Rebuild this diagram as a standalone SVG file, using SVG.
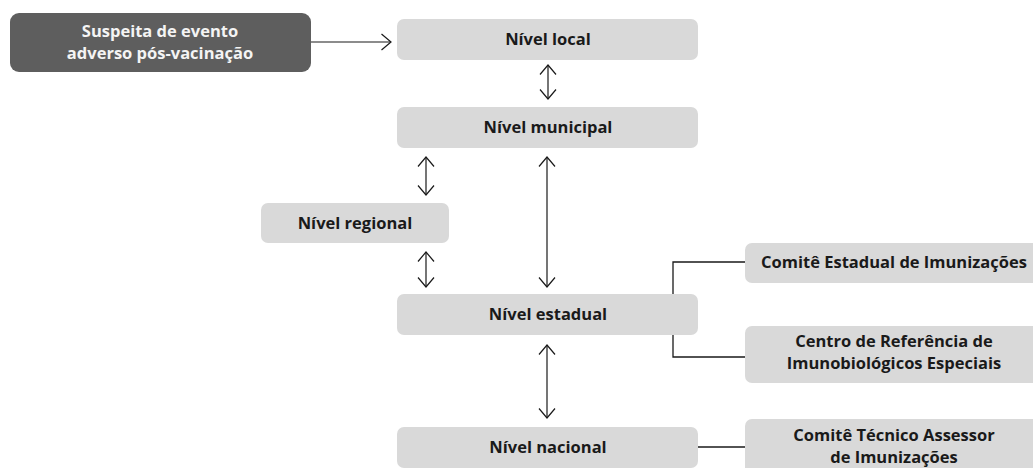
<svg xmlns="http://www.w3.org/2000/svg" width="1033" height="468" viewBox="0 0 1033 468">
<defs>
<marker id="ah" viewBox="0 0 12 18" refX="11" refY="9" markerWidth="12" markerHeight="18" markerUnits="userSpaceOnUse" orient="auto-start-reverse">
<path d="M1.5,1 L11,9 L1.5,17" fill="none" stroke="#1a1a1a" stroke-width="1.2"/>
</marker>
<style>
.box{fill:#d9d9d9}
.dark{fill:#5e5e5e}
.t{font-family:"Open Sans","Liberation Sans",sans-serif;font-weight:bold;font-size:16.5px;fill:#1a1a1a;text-anchor:middle}
.w{fill:#f4f4f4}
.ln{stroke:#1a1a1a;stroke-width:1.3;fill:none}
.arr{stroke:#1a1a1a;stroke-width:1.2;fill:none;marker-start:url(#ah);marker-end:url(#ah)}
.one{stroke:#1a1a1a;stroke-width:1.2;fill:none;marker-end:url(#ah)}
</style>
</defs>
<rect width="1033" height="468" fill="#ffffff"/>
<g id="connectors">
<line class="one" x1="311" y1="42" x2="391" y2="42"/>
<line class="arr" x1="548" y1="65" x2="548" y2="99"/>
<line class="arr" x1="426" y1="157" x2="426" y2="195"/>
<line class="arr" x1="426" y1="252" x2="426" y2="287"/>
<line class="arr" x1="547" y1="157" x2="547" y2="287"/>
<line class="arr" x1="547" y1="345" x2="547" y2="418"/>
<path class="ln" d="M745,262 H673 V357 H745"/>
<line class="ln" x1="698" y1="447" x2="745" y2="447"/>
</g>
<g id="n-suspeita">
<rect class="dark" x="10" y="13" width="301" height="59" rx="9"/>
<text class="t w" x="160" y="37">Suspeita de evento</text>
<text class="t w" x="160" y="59">adverso pós-vacinação</text>
</g>
<g id="n-local">
<rect class="box" x="397" y="19" width="301" height="41" rx="7"/>
<text class="t" x="548" y="45">Nível local</text>
</g>
<g id="n-municipal">
<rect class="box" x="397" y="107" width="301" height="41" rx="7"/>
<text class="t" x="548" y="133">Nível municipal</text>
</g>
<g id="n-regional">
<rect class="box" x="261" y="203" width="188" height="40" rx="7"/>
<text class="t" x="355" y="229">Nível regional</text>
</g>
<g id="n-estadual">
<rect class="box" x="397" y="294" width="301" height="41" rx="7"/>
<text class="t" x="548" y="320">Nível estadual</text>
</g>
<g id="n-nacional">
<rect class="box" x="397" y="427" width="301" height="41" rx="7"/>
<text class="t" x="548" y="453">Nível nacional</text>
</g>
<g id="n-comite-estadual">
<rect class="box" x="745" y="243" width="300" height="40" rx="7"/>
<text class="t" x="894" y="268">Comitê Estadual de Imunizações</text>
</g>
<g id="n-centro">
<rect class="box" x="745" y="326" width="300" height="57" rx="7"/>
<text class="t" x="894" y="347">Centro de Referência de</text>
<text class="t" x="894" y="369">Imunobiológicos Especiais</text>
</g>
<g id="n-comite-tecnico">
<rect class="box" x="745" y="419" width="300" height="59" rx="7"/>
<text class="t" x="894" y="441">Comitê Técnico Assessor</text>
<text class="t" x="894" y="463">de Imunizações</text>
</g>
</svg>
